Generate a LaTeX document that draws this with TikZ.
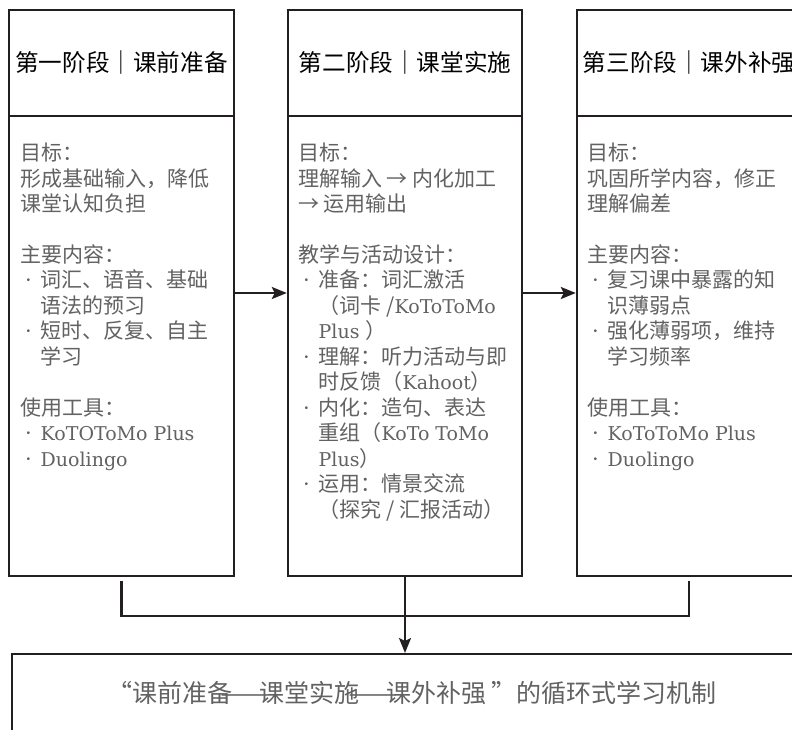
\documentclass[tikz,border=0pt]{standalone}
\usepackage{fontspec}
\usepackage{graphicx}
\setmainfont{Noto Sans CJK SC}
\newfontfamily\latf{DejaVu Serif}
\usetikzlibrary{arrows.meta}
\definecolor{ink}{HTML}{231F20}
\definecolor{txt}{HTML}{626262}
\newcommand\lt[1]{{\latf\fontsize{19}{25.45}\selectfont #1}}
\newcommand\bul{\makebox[20.5pt][l]{\hspace{5pt}{\latf ·}}}
\newcommand\ind{\hspace*{20.5pt}}
\newcommand\gap{25.45pt}
\newcommand\dsh{\makebox[27pt][c]{\scalebox{2.3}[1]{—}}}
\tikzset{
  stagebox/.style={draw=ink, line width=2.4pt, inner sep=0pt, fill=none},
  headtext/.style={text=black, font=\fontsize{23.6}{28}\selectfont, inner sep=0pt},
  bodytext/.style={text=txt, anchor=base west, inner sep=0pt},
  conn/.style={draw=ink, line width=2.4pt},
  arr/.style={conn, -{Stealth[length=15pt,width=12pt,inset=3pt]}},
}
\begin{document}
\begin{tikzpicture}[x=1pt,y=-1pt]
\clip (0,0) rectangle (792,729);
\fill[white] (0,0) rectangle (792,729);
% stage boxes
\node[stagebox, minimum width=225pt, minimum height=566pt] (s1) at (121.5,293) {};
\node[stagebox, minimum width=234pt, minimum height=566pt] (s2) at (405,293) {};
\node[stagebox, minimum width=224pt, minimum height=566pt] (s3) at (689,293) {};
\draw[conn] (9,116) -- (234,116);
\draw[conn] (288,116) -- (522,116);
\draw[conn] (577,116) -- (801,116);
% headers
\node[headtext] (h1) at (121.5,63) {第一阶段｜课前准备};
\node[headtext] (h2) at (405,63) {第二阶段｜课堂实施};
\node[headtext] (h3) at (689,63) {第三阶段｜课外补强};
% bodies
\node[bodytext] (t1) at (20,160.7) {\parbox[t]{212pt}{\fontsize{21}{25.45}\selectfont
目标：\\
形成基础输入，降低\\
课堂认知负担\\[\gap]
主要内容：\\
\bul 词汇、语音、基础\\
\ind 语法的预习\\
\bul 短时、反复、自主\\
\ind 学习\\[\gap]
使用工具：\\
\bul\lt{KoTOToMo Plus}\\
\bul\lt{Duolingo}}};
\node[bodytext] (t2) at (298,160.7) {\parbox[t]{220pt}{\fontsize{21}{25.45}\selectfont
目标：\\
理解输入 → 内化加工\\
→ 运用输出\\[\gap]
教学与活动设计：\\
\bul 准备：词汇激活\\
\ind （词卡 /\lt{KoToToMo}\\
\ind \lt{Plus }）\\
\bul 理解：听力活动与即\\
\ind 时反馈（\lt{Kahoot}）\\
\bul 内化：造句、表达\\
\ind 重组（\lt{KoTo ToMo}\\
\ind \lt{Plus}）\\
\bul 运用：情景交流\\
\ind （探究 / 汇报活动）}};
\node[bodytext] (t3) at (587,160.7) {\parbox[t]{212pt}{\fontsize{21}{25.45}\selectfont
目标：\\
巩固所学内容，修正\\
理解偏差\\[\gap]
主要内容：\\
\bul 复习课中暴露的知\\
\ind 识薄弱点\\
\bul 强化薄弱项，维持\\
\ind 学习频率\\[\gap]
使用工具：\\
\bul\lt{KoToToMo Plus}\\
\bul\lt{Duolingo}}};
% bottom box
\node[stagebox, minimum width=790.5pt, minimum height=80pt, anchor=north west] (bot) at (10.5,653) {};
\node[text=txt, font=\fontsize{25}{30}\selectfont, inner sep=0pt] (bt) at (412,693) {“课前准备\dsh 课堂实施\dsh 课外补强 ”的循环式学习机制};
% connectors
\draw[arr] (s1.east) -- (s2.west);
\draw[arr] (s2.east) -- (s3.west);
\coordinate (c1) at (121.5,581);
\coordinate (c3) at (689,581);
\coordinate (j1) at (121.5,616);
\coordinate (j3) at (689,616);
\draw[conn] (c1) -- (j1) -- (j3) -- (c3);
\draw[arr] (s2.south) -- (s2.south |- bot.north);
\end{tikzpicture}
\end{document}
